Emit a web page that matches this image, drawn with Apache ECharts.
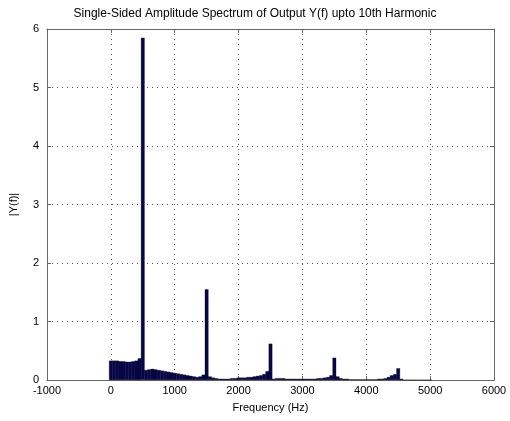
<!DOCTYPE html>
<html>
<head>
<meta charset="utf-8">
<script src="https://cdn.jsdelivr.net/npm/echarts@6/dist/echarts.min.js"></script>
<style>
html, body { margin: 0; padding: 0; background: #fff; }
#chart { width: 510px; height: 421px; }
</style>
</head>
<body>
<div id="chart"></div>
<script>
const title = 'Single-Sided Amplitude Spectrum of Output Y(f) upto 10th Harmonic'
const xName = 'Frequency (Hz)'
const yName = '|Y(f)|'

// frequency bins (Hz)
const freqs = [
    0, 50, 100, 150, 200, 250, 300, 350, 400, 450,
    500, 550, 600, 650, 700, 750, 800, 850, 900, 950,
    1000, 1050, 1100, 1150, 1200, 1250, 1300, 1350, 1400, 1450,
    1500, 1550, 1600, 1650, 1700, 1750, 1800, 1850, 1900, 1950,
    2000, 2050, 2100, 2150, 2200, 2250, 2300, 2350, 2400, 2450,
    2500, 2550, 2600, 2650, 2700, 2750, 2800, 2850, 2900, 2950,
    3000, 3050, 3100, 3150, 3200, 3250, 3300, 3350, 3400, 3450,
    3500, 3550, 3600, 3650, 3700, 3750, 3800, 3850, 3900, 3950,
    4000, 4050, 4100, 4150, 4200, 4250, 4300, 4350, 4400, 4450,
    4500, 4550, 4600, 4650, 4700, 4750, 4800, 4850, 4900, 4950,
    5000
]
// amplitude |Y(f)|
const amps = [
    0.33, 0.33, 0.33, 0.32, 0.32, 0.31, 0.31, 0.32, 0.33, 0.37,
    5.85, 0.17, 0.18, 0.19, 0.18, 0.17, 0.16, 0.15, 0.14, 0.13,
    0.12, 0.11, 0.10, 0.09, 0.08, 0.07, 0.06, 0.05, 0.06, 0.09,
    1.55, 0.06, 0.04, 0.03, 0.02, 0.02, 0.02, 0.02, 0.03, 0.03,
    0.04, 0.04, 0.04, 0.05, 0.05, 0.06, 0.07, 0.08, 0.10, 0.15,
    0.62, 0.02, 0.03, 0.03, 0.03, 0.02, 0.02, 0.02, 0.02, 0.02,
    0.02, 0.02, 0.02, 0.02, 0.02, 0.03, 0.03, 0.04, 0.05, 0.08,
    0.38, 0.06, 0.03, 0.02, 0.02, 0.01, 0.01, 0.01, 0.01, 0.01,
    0.01, 0.01, 0.01, 0.01, 0.02, 0.02, 0.03, 0.05, 0.08, 0.10,
    0.20, 0.02, 0, 0, 0, 0, 0, 0, 0, 0,
    0
]
const xTicks = [-1000, 6000, 1000]
const yTicks = [0, 6, 1]

const chart = echarts.init(document.getElementById('chart'))

const labelStyle = { color: '#000', fontSize: 11, fontFamily: 'Liberation Sans, Arial' }
const gridLine = { show: true, lineStyle: { color: '#555', type: [1, 4], width: 1 } }
const box = { show: true, onZero: false, lineStyle: { color: '#666', width: 1 } }
const tick = { show: true, inside: true, length: 4, lineStyle: { color: '#666' } }
const plain = v => String(v)

chart.setOption({
    backgroundColor: '#fff',
    animation: false,
    title: {
        text: title,
        left: 'center',
        top: 3,
        textStyle: { color: '#000', fontSize: 12, fontWeight: 'normal', fontFamily: 'Liberation Sans, Arial' }
    },
    grid: { left: 46, right: 16, top: 29, bottom: 41 },
    xAxis: [{
        type: 'value',
        min: xTicks[0], max: xTicks[1], interval: xTicks[2],
        name: xName,
        nameLocation: 'middle',
        nameGap: 22,
        nameTextStyle: labelStyle,
        axisLine: box, axisTick: tick,
        axisLabel: { ...labelStyle, margin: 5, formatter: plain },
        splitLine: gridLine
    }, {
        type: 'value', position: 'top',
        min: xTicks[0], max: xTicks[1], interval: xTicks[2],
        axisLine: box, axisTick: tick,
        axisLabel: { show: false }, splitLine: { show: false }
    }],
    yAxis: [{
        type: 'value',
        min: yTicks[0], max: yTicks[1], interval: yTicks[2],
        name: yName,
        nameLocation: 'middle',
        nameGap: 28,
        nameTextStyle: labelStyle,
        axisLine: box, axisTick: tick,
        axisLabel: { ...labelStyle, margin: 8, formatter: plain },
        splitLine: gridLine
    }, {
        type: 'value', position: 'right',
        min: yTicks[0], max: yTicks[1], interval: yTicks[2],
        axisLine: box, axisTick: tick,
        axisLabel: { show: false }, splitLine: { show: false }
    }],
    series: [{
        type: 'bar',
        xAxisIndex: 0,
        yAxisIndex: 0,
        barWidth: 3.6,
        itemStyle: { color: '#06064e', borderColor: '#000', borderWidth: 0.3 },
        data: freqs.map((f, i) => [f, amps[i]])
    }]
})
</script>
</body>
</html>
